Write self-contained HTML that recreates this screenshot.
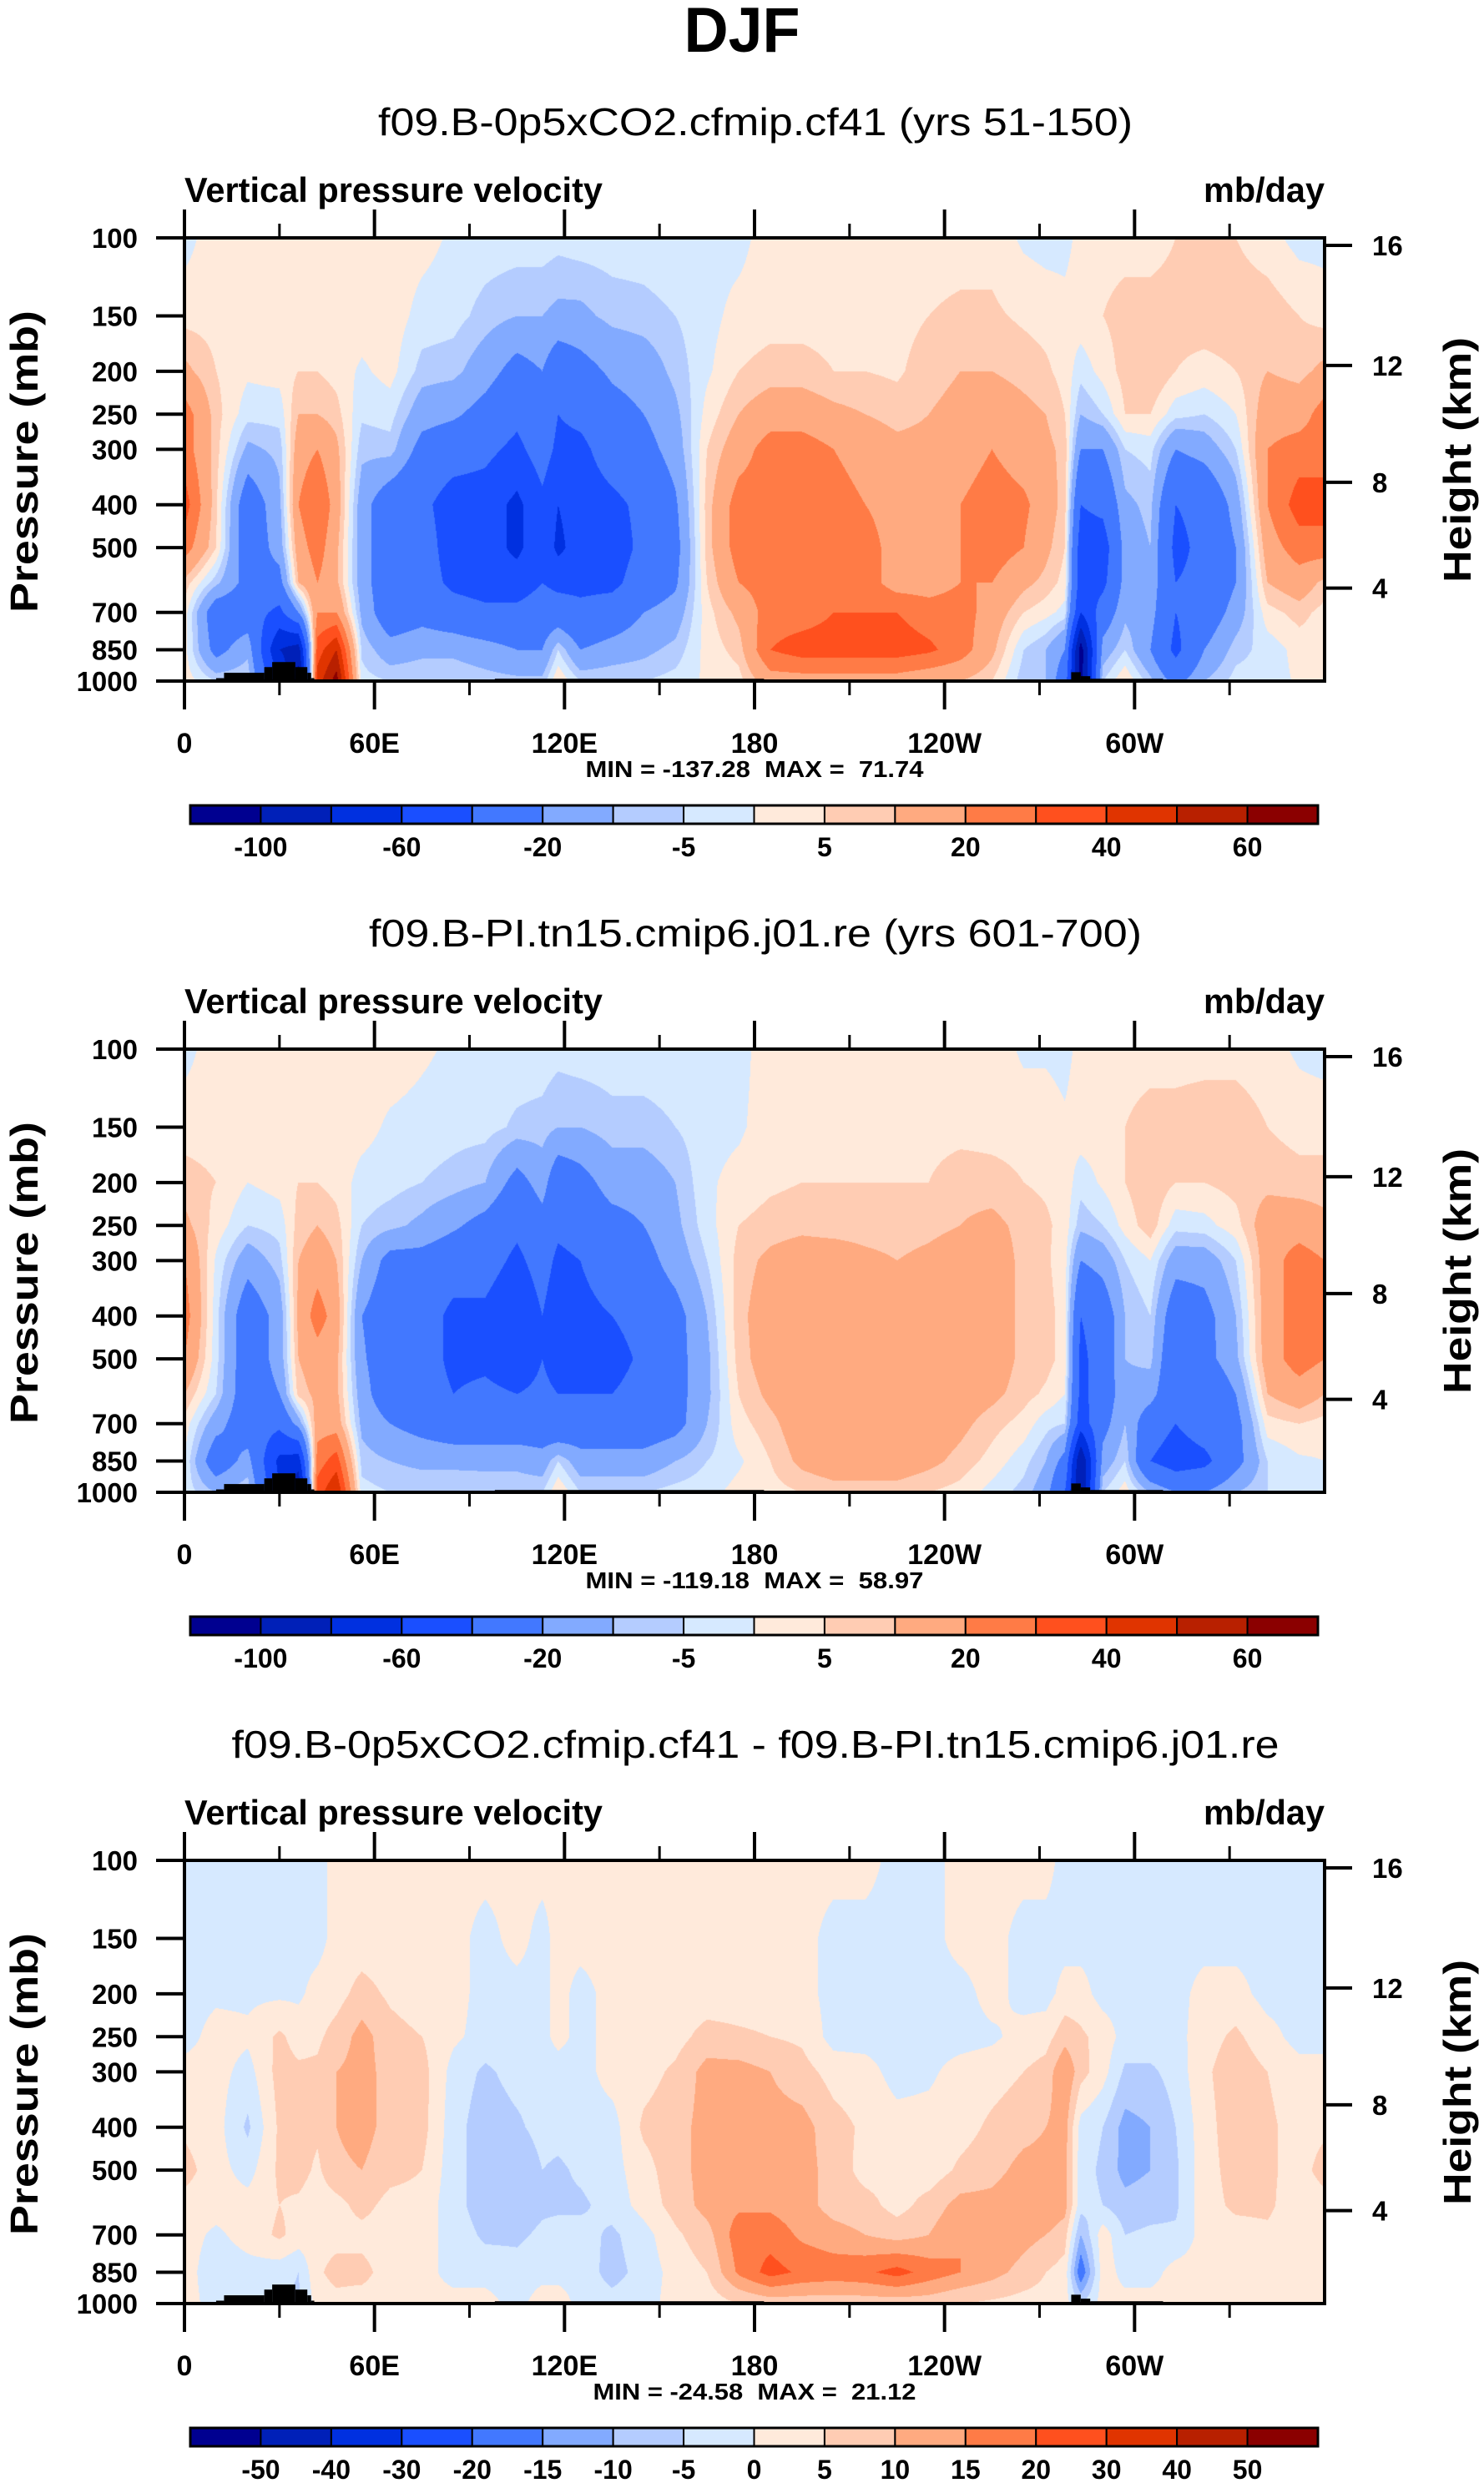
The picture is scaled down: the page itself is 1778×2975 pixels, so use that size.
<!DOCTYPE html>
<html><head><meta charset="utf-8"><title>DJF Vertical pressure velocity</title>
<style>
html,body{margin:0;padding:0;background:#fff;}
#wrap{position:relative;width:1778px;height:2975px;overflow:hidden;background:#fff;}
canvas{position:absolute;left:221px;width:1366px;height:531px;}
svg{position:absolute;left:0;top:0;}
text{font-family:"Liberation Sans",Arial,sans-serif;fill:#000;}
</style></head>
<body>
<div id="wrap">
<canvas id="c0" width="1366" height="531" style="top:285px"></canvas>
<canvas id="c1" width="1366" height="531" style="top:1257px"></canvas>
<canvas id="c2" width="1366" height="531" style="top:2229px"></canvas>
<svg id="ov" width="1778" height="2975" xmlns="http://www.w3.org/2000/svg">
<text x="889" y="62" text-anchor="middle" font-size="76" font-weight="bold" textLength="139" lengthAdjust="spacingAndGlyphs">DJF</text>
</svg>
</div>
<script>
// ---- shared axes data ----
const lons=[0,10,20,30,36,42,48,56,65,75,85,95,105,113,118,125,135,145,155,165,175,185,195,205,215,225,235,245,255,265,272,278,283,290,297,305,313,322,332,342,352,360];
const plevs=[100,150,200,250,300,400,500,600,700,850,1000];
const pTicks=[100,150,200,250,300,400,500,700,850,1000];
const hTickLabels=['16','12','8','4'];
const hTickP=[104,194,356,617];
const lonTicks=[0,60,120,180,240,300];
const lonTickLabels=['0','60E','120E','180','120W','60W'];
const lonMinor=[30,90,150,210,270,330];
const palette=['#000090','#0020b8','#0030e0','#1a4fff','#4278ff','#82aaff','#b4ccff','#d6e9ff','#ffeadb','#ffccb3','#ffaa80','#ff7b46','#ff501e','#e03400','#b82000','#8b0000'];
const levels12=[-100,-80,-60,-40,-20,-10,-5,0,5,10,20,30,40,50,60];
const levels3=[-50,-40,-30,-20,-15,-10,-5,0,5,10,15,20,30,40,50];
const cbLabels12=['-100','-60','-20','-5','5','20','40','60'];
const titles=['f09.B-0p5xCO2.cfmip.cf41 (yrs 51-150)','f09.B-PI.tn15.cmip6.j01.re (yrs 601-700)','f09.B-0p5xCO2.cfmip.cf41 - f09.B-PI.tn15.cmip6.j01.re'];
const minmax=['MIN = -137.28  MAX =  71.74','MIN = -119.18  MAX =  58.97','MIN = -24.58  MAX =  21.12'];
const topoStart=[10,12.5,25.2,27.7,35,38.8,40,98,280,283,286];
const topoEnd=[12.5,25.2,27.7,35,38.8,40,41,183,283,286,309];
const topoTop=[985,958,930,906,930,958,985,988,955,975,988];

// ---- fields: each entry is one longitude column, values from 100 mb (top) to 1000 mb ----
const field1=[
[-2,3,12,25,25,35,25,8,3,2,3],
[3,3,5,7,7,6,5,-8,-30,-25,-5],
[3,3,1,-3,-12,-30,-30,-25,-30,-12,-5],
[3,3,2,-3,-8,-12,-15,-25,-45,-80,-60],
[3,3,5,10,15,20,15,10,-20,-90,-110],
[3,3,5,10,20,30,25,20,20,35,45],
[3,3,3,7,12,15,12,12,20,50,65],
[3,3,-1,-4,-8,-15,-15,-15,-12,-6,-3],
[3,3,2,-3,-7,-30,-30,-30,-30,-15,-5],
[2,-2,-7,-15,-25,-35,-30,-30,-25,-12,-5],
[-1,-3,-8,-18,-30,-50,-50,-45,-30,-12,-5],
[-2,-7,-15,-25,-35,-50,-50,-50,-35,-15,-7],
[-2,-10,-25,-35,-45,-65,-65,-50,-35,-20,-8],
[-2,-10,-20,-25,-30,-45,-45,-40,-30,-20,-8],
[-3,-12,-30,-40,-45,-60,-65,-45,-30,-5,5],
[-2,-12,-25,-35,-45,-50,-50,-45,-35,-20,-5],
[-2,-8,-18,-25,-30,-45,-50,-45,-30,-15,-5],
[-2,-7,-15,-20,-25,-35,-35,-30,-20,-12,-5],
[-1,-5,-8,-12,-15,-22,-25,-22,-15,-8,-3],
[-2,-2,-1,2,5,7,7,5,3,2,1],
[-2,2,5,10,15,25,25,20,12,7,3],
[3,3,7,15,25,25,25,25,25,30,15],
[3,3,7,15,25,25,25,25,25,35,15],
[3,3,5,12,20,25,25,25,30,35,15],
[3,3,5,10,15,20,25,25,30,35,15],
[3,3,4,8,12,15,15,15,30,35,15],
[3,5,8,10,12,15,15,15,25,32,12],
[3,6,10,12,15,20,20,20,25,25,10],
[3,6,10,15,20,25,25,20,15,12,5],
[-1,4,8,12,15,22,20,12,5,-5,-8],
[-2,3,6,10,12,15,12,8,2,-10,-10],
[-2,2,3,5,8,7,5,3,-2,-20,-30],
[2,3,-3,-10,-20,-40,-50,-50,-60,-110,-110],
[3,5,2,-5,-20,-35,-50,-45,-30,-15,-5],
[3,7,7,5,-5,-12,-15,-15,-12,-5,5],
[3,7,10,5,-3,-8,-10,-12,-15,-20,-8],
[5,7,5,-3,-20,-40,-45,-40,-40,-45,-25],
[5,8,3,-5,-15,-35,-35,-35,-30,-20,-10],
[5,8,5,0,-5,-15,-20,-20,-15,-7,-3],
[2,8,10,15,20,20,15,10,3,-3,-3],
[-2,5,8,15,25,35,25,15,7,2,1],
[-2,3,12,25,25,35,25,8,3,2,3]
];
const field2=[
[-2,3,7,12,20,25,20,10,3,0,-2],
[3,3,5,3,-1,-3,-3,-5,-15,-30,-10],
[3,3,0,-5,-15,-30,-30,-30,-30,-15,-5],
[3,3,2,-3,-7,-15,-15,-20,-35,-65,-60],
[3,3,5,7,10,12,10,7,-15,-70,-100],
[3,3,5,10,15,25,15,12,15,25,35],
[3,3,3,7,10,15,12,12,15,35,50],
[3,2,-2,-5,-10,-20,-18,-15,-12,-7,-3],
[3,-1,-3,-8,-25,-30,-30,-30,-20,-10,-5],
[1,-2,-5,-12,-25,-30,-30,-30,-25,-12,-5],
[-1,-3,-7,-18,-30,-45,-45,-40,-30,-12,-5],
[-2,-3,-10,-25,-30,-45,-45,-35,-30,-12,-6],
[-2,-6,-25,-35,-45,-60,-55,-40,-30,-12,-6],
[-2,-7,-15,-25,-30,-40,-40,-35,-30,-15,-5],
[-3,-10,-30,-35,-45,-55,-50,-40,-35,-5,5],
[-2,-10,-25,-30,-40,-45,-45,-40,-30,-15,-5],
[-2,-7,-15,-25,-30,-40,-50,-40,-30,-15,-5],
[-2,-7,-15,-20,-25,-30,-35,-30,-30,-15,-5],
[-2,-5,-10,-12,-15,-25,-25,-25,-25,-10,-3],
[-2,-2,-1,-2,-5,-10,-12,-12,-10,-5,-2],
[-2,-1,2,5,7,8,7,5,3,-1,2],
[3,3,4,7,12,15,15,12,8,5,3],
[3,3,5,8,15,15,15,15,15,12,5],
[3,3,5,7,15,15,15,15,15,15,7],
[3,3,5,7,12,15,15,15,15,15,7],
[3,3,5,7,10,15,15,15,15,15,7],
[3,3,5,8,12,15,15,15,15,12,5],
[3,3,8,10,15,15,15,15,12,8,3],
[3,3,7,12,15,15,15,12,7,3,-2],
[-1,3,5,8,8,8,8,7,3,-3,-7],
[-1,3,4,6,6,7,7,4,-3,-10,-15],
[-2,1,3,3,2,3,3,0,-5,-25,-40],
[2,3,-3,-8,-20,-40,-45,-45,-50,-100,-100],
[3,3,1,-5,-15,-30,-30,-30,-25,-15,-5],
[3,5,5,2,-5,-10,-10,-12,-10,-5,3],
[3,7,9,8,0,-5,-8,-15,-30,-40,-10],
[3,7,5,-3,-15,-30,-35,-35,-40,-50,-20],
[3,8,5,-2,-15,-25,-25,-35,-30,-45,-20],
[3,8,7,3,-5,-10,-12,-20,-25,-25,-10],
[2,5,8,15,15,15,15,10,3,-5,-5],
[-1,3,7,15,25,25,25,15,5,-1,-3],
[-2,3,7,12,20,25,20,10,3,0,-2]
];
const field3=[
[-2,-2,-2,-2,2,4,7,3,2,2,2],
[-2,-2,-1,2,2,2,2,2,-1,-3,-2],
[-2,-2,-1,1,-2,-6,-2,2,2,-2,-1],
[-2,-2,-1,6,7,6,6,5,6,-3,-5],
[-2,-2,-1,3,6,7,7,4,3,-5,-6],
[-2,-2,2,4,6,6,4,2,3,4,2],
[2,2,3,7,10,10,9,3,3,7,3],
[2,2,7,12,12,12,10,7,3,7,2],
[2,2,4,7,8,8,7,3,2,2,2],
[2,2,2,5,7,7,5,3,2,2,2],
[2,2,2,1,-2,-3,-3,-3,-2,-2,2],
[2,-2,-2,-2,-6,-8,-8,-8,-6,-2,2],
[2,2,-2,-2,-3,-6,-10,-8,-6,-3,-2],
[2,-2,-2,-2,-3,-3,-5,-6,-4,-2,3],
[2,2,2,2,-3,-3,-6,-6,-3,-2,3],
[2,2,-2,-2,-2,-2,-4,-6,-3,-2,-2],
[2,2,2,2,2,-2,-2,-3,-6,-7,-3],
[2,2,2,2,3,6,3,2,-2,-3,-2],
[2,2,2,3,6,8,8,7,4,2,2],
[2,2,2,7,12,12,12,12,8,5,2],
[2,2,2,6,12,12,12,14,18,16,5],
[2,2,2,5,10,12,12,14,18,22,7],
[2,2,2,4,7,12,12,12,14,19,7],
[2,-2,-2,-2,3,7,8,8,12,18,7],
[2,-2,-3,-2,2,4,3,7,10,19,7],
[-2,-2,-2,-2,-2,2,3,3,8,22,7],
[-2,-2,-2,-2,-1,2,2,7,10,18,7],
[2,2,-2,-2,2,3,6,12,15,15,5],
[2,2,2,-1,3,6,8,12,15,12,4],
[2,-2,-2,2,5,8,12,15,12,8,3],
[2,-2,-2,3,7,10,12,15,10,5,3],
[-2,-2,2,8,15,12,12,12,7,3,2],
[-2,-2,2,6,7,-2,-3,-3,-10,-20,-5],
[-2,-2,-2,3,2,-5,-6,-5,3,3,2],
[-2,-2,-2,-2,-6,-12,-12,-8,-5,-2,2],
[-2,-2,-2,-2,-6,-10,-10,-7,-4,-2,2],
[-2,-2,-2,-2,-3,-5,-6,-6,-4,2,2],
[-2,-2,2,3,4,3,3,3,2,2,2],
[-2,-2,2,6,8,8,7,6,3,2,2],
[-2,-2,-2,2,5,6,6,6,4,2,2],
[-2,-2,-2,-2,2,3,3,2,2,2,2],
[-2,-2,-2,-2,2,4,7,3,2,2,2]
];

// ---- geometry ----
const PX=221, PW=1366, PH=531, TOP0=285, DY=972;
const CBX=228, CBW=1351, CBY=965, CBH=22;
function xOf(lon){return PX+lon/360*PW;}
function yOf(p,k){return TOP0+k*DY+PH*Math.log10(p/100);}
function hex(c){return [parseInt(c.slice(1,3),16),parseInt(c.slice(3,5),16),parseInt(c.slice(5,7),16)];}
const palRGB=palette.map(hex);
const logp=plevs.map(p=>Math.log10(p/100));

function drawField(canvasId,field,levels){
  const cv=document.getElementById(canvasId);
  const ctx=cv.getContext('2d');
  const img=ctx.createImageData(PW,PH);
  const d=img.data;
  const ci=new Int32Array(PW), cf=new Float32Array(PW);
  for(let x=0;x<PW;x++){
    const lon=(x+0.5)/PW*360;
    let i=0; while(i<lons.length-2 && lons[i+1]<lon) i++;
    ci[x]=i; cf[x]=(lon-lons[i])/(lons[i+1]-lons[i]);
  }
  for(let y=0;y<PH;y++){
    const t=(y+0.5)/PH;
    let j=0; while(j<logp.length-2 && logp[j+1]<t) j++;
    const g=(t-logp[j])/(logp[j+1]-logp[j]);
    for(let x=0;x<PW;x++){
      const i=ci[x], f=cf[x];
      const a=field[i][j]*(1-g)+field[i][j+1]*g;
      const b=field[i+1][j]*(1-g)+field[i+1][j+1]*g;
      const v=a*(1-f)+b*f;
      let k=0; while(k<levels.length && v>=levels[k]) k++;
      const c=palRGB[k]; const o=(y*PW+x)*4;
      d[o]=c[0]; d[o+1]=c[1]; d[o+2]=c[2]; d[o+3]=255;
    }
  }
  ctx.putImageData(img,0,0);
}
drawField('c0',field1,levels12);
drawField('c1',field2,levels12);
drawField('c2',field3,levels3);

// ---- overlay ----
const NS='http://www.w3.org/2000/svg';
const ov=document.getElementById('ov');
function el(tag,attrs,txt){
  const e=document.createElementNS(NS,tag);
  for(const k in attrs) e.setAttribute(k,attrs[k]);
  if(txt!==undefined) e.textContent=txt;
  ov.appendChild(e); return e;
}
function line(x1,y1,x2,y2,w){return el('line',{x1:x1,y1:y1,x2:x2,y2:y2,stroke:'#000','stroke-width':w||4});}

for(let k=0;k<3;k++){
  const top=TOP0+k*DY, bot=top+PH;
  const t=el('text',{x:905,y:162+k*DY,'text-anchor':'middle','font-size':46,textLength:k==2?1255:(k==0?904:926),lengthAdjust:'spacingAndGlyphs'},titles[k]);
  
  
  let s=el('text',{x:221,y:242+k*DY,'font-size':42,'font-weight':'bold',textLength:501,lengthAdjust:'spacingAndGlyphs'},'Vertical pressure velocity');
  
  
  s=el('text',{x:1587,y:242+k*DY,'text-anchor':'end','font-size':42,'font-weight':'bold',textLength:145,lengthAdjust:'spacingAndGlyphs'},'mb/day');
  
  
  for(let i=0;i<topoStart.length;i++){
    const r=el('rect',{x:xOf(topoStart[i]),y:yOf(topoTop[i],k),width:xOf(topoEnd[i])-xOf(topoStart[i]),height:bot-yOf(topoTop[i],k),fill:'#000'});
    
    
  }
  const fr=el('rect',{x:PX,y:top,width:PW,height:PH,fill:'none',stroke:'#000','stroke-width':4});
  
  
  lonTicks.forEach((lon,i)=>{
    const x=xOf(lon);
    line(x,top,x,top-34); line(x,bot,x,bot+34);
    const tl=el('text',{x:x,y:bot+86,'text-anchor':'middle','font-size':34,'font-weight':'bold'},lonTickLabels[i]);
    
    
  });
  lonMinor.forEach(lon=>{const x=xOf(lon); line(x,top,x,top-17,3); line(x,bot,x,bot+17,3);});
  pTicks.forEach(p=>{
    const y=yOf(p,k);
    line(187,y,PX,y);
    const tl=el('text',{x:165,y:y+12,'text-anchor':'end','font-size':33,'font-weight':'bold'},String(p));
    
    
  });
  hTickP.forEach((p,i)=>{
    const y=yOf(p,k);
    line(PX+PW,y,PX+PW+33,y);
    const tl=el('text',{x:1644,y:y+12,'font-size':33,'font-weight':'bold'},hTickLabels[i]);
    
    
  });
  let ya=el('text',{x:0,y:0,'text-anchor':'middle','font-size':46,'font-weight':'bold',transform:'translate(45,'+(553+k*DY)+') rotate(-90)',textLength:362,lengthAdjust:'spacingAndGlyphs'},'Pressure (mb)');
  
  
  ya=el('text',{x:0,y:0,'text-anchor':'middle','font-size':46,'font-weight':'bold',transform:'translate(1762,'+(551+k*DY)+') rotate(-90)',textLength:294,lengthAdjust:'spacingAndGlyphs'},'Height (km)');
  
  
  const mm=el('text',{x:904,y:931+k*DY,'text-anchor':'middle','font-size':28,'font-weight':'bold',style:'white-space:pre',textLength:k==2?387:405,lengthAdjust:'spacingAndGlyphs'},minmax[k]);
  
  
  const bw=CBW/16, cy=CBY+k*DY;
  for(let i=0;i<16;i++){
    const r=el('rect',{x:CBX+i*bw,y:cy,width:bw,height:CBH,fill:palette[i],stroke:'#000','stroke-width':2});
    
    
  }
  const cbf=el('rect',{x:CBX,y:cy,width:CBW,height:CBH,fill:'none',stroke:'#000','stroke-width':3});
  
  
  if(k<2){
    cbLabels12.forEach((lab,i)=>{
      const tl=el('text',{x:CBX+(2*i+1)*bw,y:cy+61,'text-anchor':'middle','font-size':32,'font-weight':'bold'},lab);
      
      
    });
  } else {
    levels3.forEach((v,i)=>{
      const tl=el('text',{x:CBX+(i+1)*bw,y:cy+61,'text-anchor':'middle','font-size':32,'font-weight':'bold'},String(v));
      
      
    });
  }
}
</script>
</body></html>
